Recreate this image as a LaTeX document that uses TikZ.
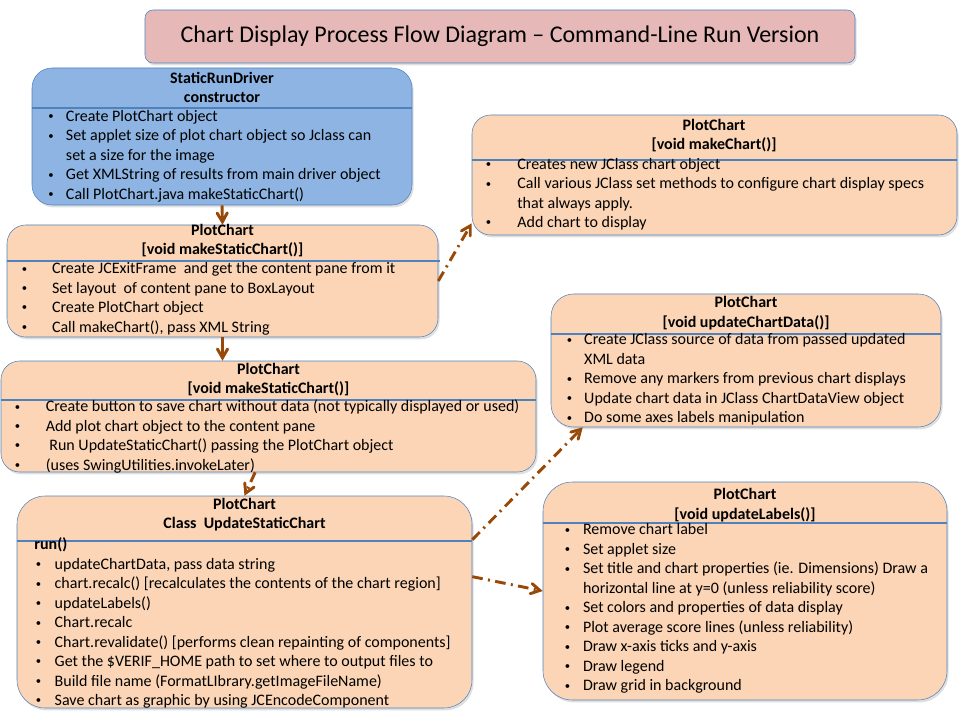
\documentclass[tikz,border=0pt]{standalone}
\usepackage{fontspec}
\setmainfont{Carlito}
\usepackage{tikz}
\usetikzlibrary{arrows,fit,shadows}
\definecolor{peach}{RGB}{251,213,181}
\definecolor{skyblue}{RGB}{141,180,226}
\definecolor{rosy}{RGB}{230,185,184}
\definecolor{edgeblue}{RGB}{79,129,189}
\definecolor{flowbrown}{RGB}{152,72,7}
\newcommand{\itm}[1]{\makebox[#1][l]{\raisebox{1.2pt}{\fontsize{8}{8}\selectfont\textbullet}}}
\newcommand{\cnt}[1]{\hspace*{#1}}
\tikzset{
	procbox/.style = {draw=edgeblue, fill=peach, inner sep=0pt, rounded corners=#1,
		drop shadow={shadow xshift=1.2pt, shadow yshift=-1.8pt, opacity=0.25}},% box of one method
	procbox/.default = 14pt,
	hdr/.style = {anchor=base, align=center, inner sep=0pt,
		font=\fontsize{12}{14.6}\selectfont\bfseries},% class and method name, placed by last line
	items/.style = {anchor=base west, align=left, inner sep=0pt,
		font=\fontsize{12}{14.6}\selectfont},% bullet list, placed by last line
	sepline/.style = {draw=edgeblue, line width=2.2pt},
	flow/.style = {->, draw=flowbrown, line width=2.2pt},
	callflow/.style = {flow, dash pattern=on 8pt off 4pt on 1.5pt off 4pt}
}

\begin{document}
\begin{tikzpicture}[x=0.75pt, y=-0.75pt, >=angle 60]
\useasboundingbox (0,0) rectangle (960,720);
% boxes
\node[procbox=6pt, fill=rosy, fit={(145,10) (855,63)}] (title) {};
\node[procbox=15pt, fill=skyblue, fit={(32,68) (412,205)}] (driver) {};
\node[procbox] (mkchart) [fit={(472,115) (957,235)}] {};
\node[procbox] (mkstatic) [fit={(7,225) (438,337)}] {};
\node[procbox] (mkstatictwo) [fit={(1,361) (536,472)}] {};
\node[procbox=21pt] (updstatic) [fit={(17,496) (472,708)}] {};
\node[procbox=17pt] (upddata) [fit={(551,294) (941,427)}] {};
\node[procbox=22pt] (updlabels) [fit={(543,482) (947,700)}] {};
% separators
\draw[sepline] (driver.west |- 0,108) -- (driver.east |- 0,108);
\draw[sepline] (mkchart.west |- 0,160) -- (mkchart.east |- 0,160);
\draw[sepline] (mkstatic.west |- 0,261) -- ([xshift=1.5pt]mkstatic.east |- 0,261);
\draw[sepline] (mkstatictwo.west |- 0,400) -- (mkstatictwo.east |- 0,400);
\draw[sepline] (updstatic.west |- 0,541) -- (updstatic.east |- 0,541);
\draw[sepline] (upddata.west |- 0,334) -- (upddata.east |- 0,334);
\draw[sepline] (updlabels.west |- 0,523) -- (updlabels.east |- 0,523);
% texts
\node[font=\fontsize{18}{22}\selectfont] (title-t) at (title.center)
	{Chart Display Process Flow Diagram – Command-Line Run Version};
\node[hdr] (driver-h) at (222,102.7) {StaticRunDriver\\constructor};
\node[items] (driver-l) at (48,199.3) {\itm{13.3pt}Create PlotChart object\\
	\itm{13.3pt}Set applet size of plot chart object so Jclass can\\
	\cnt{13.3pt}set a size for the image\\
	\itm{13.3pt}Get XMLString of results from main driver object\\
	\itm{13.3pt}Call PlotChart.java makeStaticChart()};
\node[hdr] (mkchart-h) at (714,150) {PlotChart\\{[}void makeChart()]};
\node[items] (mkchart-l) at (485.5,227.6) {\itm{23.7pt}Creates new JClass chart object\\
	\itm{23.7pt}Call various JClass set methods to configure chart display specs\\
	\cnt{23.7pt}that always apply.\\
	\itm{23.7pt}Add chart to display};
\node[hdr] (mkstatic-h) at (222.5,255) {PlotChart\\{[}void makeStaticChart()]};
\node[items] (mkstatic-l) at (21.5,332) {\itm{22.7pt}Create JCExitFrame~ and get the content pane from it\\
	\itm{22.7pt}Set layout~ of content pane to BoxLayout\\
	\itm{22.7pt}Create PlotChart object\\
	\itm{22.7pt}Call makeChart(), pass XML String};
\node[hdr] (mkstatictwo-h) at (268.5,393.7) {PlotChart\\{[}void makeStaticChart()]};
\node[items] (mkstatictwo-l) at (14.7,470) {\itm{23.1pt}Create button to save chart without data (not typically displayed or used)\\
	\itm{23.1pt}Add plot chart object to the content pane\\
	\itm{23.1pt}~Run UpdateStaticChart() passing the PlotChart object\\
	\itm{23.1pt}(uses SwingUtilities.invokeLater)};
\node[hdr] (updstatic-h) at (244.5,528.9) {PlotChart\\Class~ UpdateStaticChart};
\node[items] (updstatic-l) at (35.5,705.5) {\hspace*{-1pt}\textbf{run()}\\
	\itm{14.2pt}updateChartData, pass data string\\
	\itm{14.2pt}chart.recalc() [recalculates the contents of the chart region]\\
	\itm{14.2pt}updateLabels()\\
	\itm{14.2pt}Chart.recalc\\
	\itm{14.2pt}Chart.revalidate() [performs clean repainting of components]\\
	\itm{14.2pt}Get the \$VERIF\_HOME path to set where to output files to\\
	\itm{14.2pt}Build file name (FormatLIbrary.getImageFileName)\\
	\itm{14.2pt}Save chart as graphic by using JCEncodeComponent};
\node[hdr] (upddata-h) at (746,327.3) {PlotChart\\{[}void updateChartData()]};
\node[items] (upddata-l) at (566.5,422.7) {\itm{13.1pt}Create JClass source of data from passed updated\\
	\cnt{13.1pt}XML data\\
	\itm{13.1pt}Remove any markers from previous chart displays\\
	\itm{13.1pt}Update chart data in JClass ChartDataView object\\
	\itm{13.1pt}Do some axes labels manipulation};
\node[hdr] (updlabels-h) at (745,519.3) {PlotChart\\{[}void updateLabels()]};
\node[items] (updlabels-l) at (564.5,690.7) {\itm{13.7pt}Remove chart label\\
	\itm{13.7pt}Set applet size\\
	\itm{13.7pt}Set title and chart properties (ie. Dimensions) Draw a\\
	\cnt{13.7pt}horizontal line at y=0 (unless reliability score)\\
	\itm{13.7pt}Set colors and properties of data display\\
	\itm{13.7pt}Plot average score lines (unless reliability)\\
	\itm{13.7pt}Draw x-axis ticks and y-axis\\
	\itm{13.7pt}Draw legend\\
	\itm{13.7pt}Draw grid in background};
% connectors
\draw[flow] (driver.south) -- (mkstatic.north);
\draw[flow] (mkstatic.south) -- (mkstatic.south |- mkstatictwo.north);
\draw[callflow] ([xshift=-10pt]mkstatictwo.south) -- (updstatic.north);
\draw[callflow] (mkstatic.east) -- ([yshift=9pt]mkchart.south west);
\draw[callflow] ([yshift=-33pt]updstatic.north east) -- ([xshift=24pt]upddata.south west);
\draw[callflow] ([yshift=19pt]updstatic.east) -- (updlabels.west);
\end{tikzpicture}
\end{document}
